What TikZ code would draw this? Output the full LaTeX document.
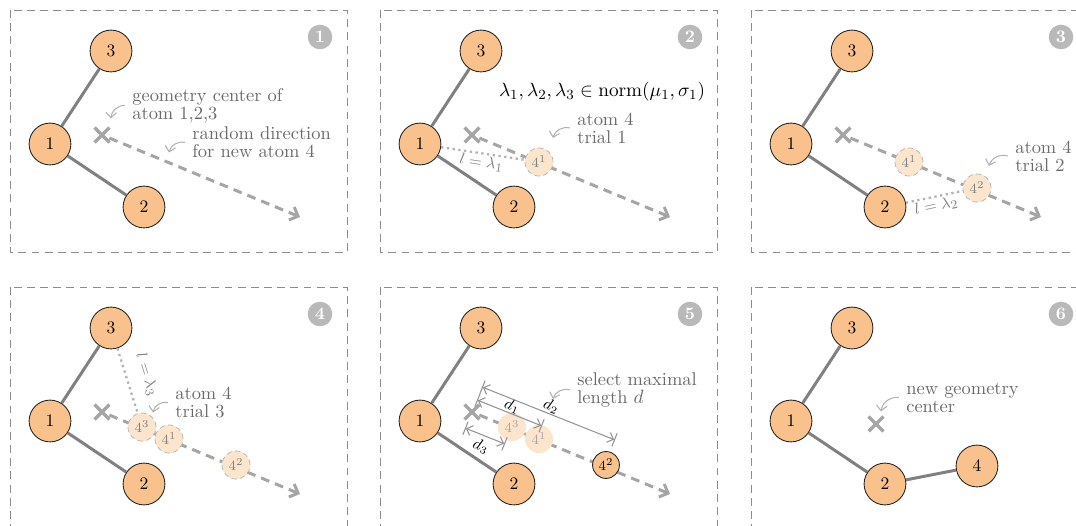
\documentclass[tikz,border=0pt]{standalone}
\usepackage{xcolor}
\usepackage{tikz}
\usepackage{amsmath}
\usetikzlibrary{positioning,shapes.misc,arrows.meta,calc}

\definecolor{atomorange}{RGB}{249,194,140}
\definecolor{trialfill}{RGB}{252,229,205}
\definecolor{bondgray}{RGB}{128,128,128}
\definecolor{dirgray}{RGB}{165,165,165}
\definecolor{notegray}{RGB}{105,105,105}

\begin{document}
\begin{tikzpicture}[x=0.02cm, y=-0.02cm,
    panel/.style={draw=gray!90, line width=0.5pt, dash pattern=on 4.5pt off 3pt},
    stepnum/.style={circle, fill=gray!55, text=white, font=\bfseries, minimum size=14pt, inner sep=0pt},
    atom/.style={circle, draw=black!85, fill=atomorange, minimum size=23.8pt, inner sep=0pt, line width=0.5pt},
    trial/.style={circle, draw=gray!60, densely dashed, fill=trialfill, minimum size=16pt, inner sep=0pt, text=gray, font=\footnotesize},
    ghost/.style={circle, fill=trialfill, minimum size=16pt, inner sep=0pt, text=gray!70, font=\footnotesize},
    bond/.style={draw=bondgray, line width=1.7pt},
    centre/.style={cross out, draw=dirgray, line width=1.9pt, minimum size=6.5pt, inner sep=0pt},
    direction/.style={draw=dirgray, line width=1.7pt, dash pattern=on 5pt off 3.5pt, -{Straight Barb[length=4pt, width=8pt]}},
    trace/.style={draw=gray!60, line width=1.3pt, dotted},
    lab/.style={text=gray, font=\fontsize{9.5}{11}\selectfont, inner sep=1pt},
    note/.style={anchor=west, align=left, text=notegray, inner sep=0pt, font=\fontsize{10.5}{10.3}\selectfont},
    pointer/.style={draw=gray!60, line width=0.6pt, -{Straight Barb[length=3pt, width=6pt]}},
    dim/.style={draw=gray!85, line width=0.6pt, {Bar[width=8pt] Straight Barb[length=3pt, width=6pt]}-{Straight Barb[length=3pt, width=6pt] Bar[width=8pt]}}]
\useasboundingbox (0,0) rectangle (1076,526);
\clip (0,0) rectangle (1076,526);

\foreach \p/\ox/\oy/\cx/\cy in {1/10/10/92/125, 2/380/10/92/125, 3/751/10/92/125,
                                4/10/287/92/125, 5/380/287/92/125, 6/751/287/125/137} {
  \begin{scope}[shift={(\ox,\oy)}]
    \draw[panel] (0,0) rectangle (337,242);
    \node[stepnum] (s-\p) at (310,27) {\p};
    \node[atom] (a1-\p) at (40,134) {1};
    \node[atom] (a2-\p) at (134,197) {2};
    \node[atom] (a3-\p) at (101,41) {3};
    \draw[bond] (a1-\p) -- (a2-\p);
    \draw[bond] (a1-\p) -- (a3-\p);
    \node[centre] (c-\p) at (\cx,\cy) {};
    \ifnum\p<6
      \coordinate (e-\p) at (290,207);
      \draw[direction] (c-\p) -- (e-\p);
    \fi
  \end{scope}
}

\begin{scope}[shift={(10,10)}]
  \node[note] (n-1) at (122,95.5) {geometry center of\\atom 1,2,3};
  \draw[pointer] ([xshift=-4pt]n-1.west) to[bend right=45] ++(-14,13);
  \node[note] (m-1) at (182,132.5) {random direction\\for new atom 4};
  \draw[pointer] ([xshift=-4pt]m-1.west) to[bend right=45] ++(-16,10);
\end{scope}

\begin{scope}[shift={(380,10)}]
  \node[font=\fontsize{11}{13}\selectfont] (law) at (222,82) {$\lambda_1, \lambda_2, \lambda_3 \in \mathrm{norm}(\mu_1, \sigma_1)$};
  \node[trial] (t1-2) at (159,152) {$4^1$};
  \draw[trace] (a1-2) -- node[lab, below, sloped] {$l=\lambda_1$} (t1-2);
  \node[note] (n-2) at (197,118) {atom 4\\trial 1};
  \draw[pointer] ([xshift=-4pt]n-2.west) to[bend right=45] ++(-17,10);
\end{scope}

\begin{scope}[shift={(751,10)}]
  \node[trial] (t1-3) at (158,152) {$4^1$};
  \node[trial] (t2-3) at (226,178) {$4^2$};
  \draw[trace] (a2-3) -- node[lab, below, sloped] {$l=\lambda_2$} (t2-3);
  \node[note] (n-3) at (264,146) {atom 4\\trial 2};
  \draw[pointer] ([xshift=-4pt]n-3.west) to[bend right=45] ++(-19,10);
\end{scope}

\begin{scope}[shift={(10,287)}]
  \node[trial] (t3-4) at (132,140) {$4^3$};
  \node[trial] (t1-4) at (159,152) {$4^1$};
  \node[trial] (t2-4) at (226,178) {$4^2$};
  \draw[trace] (a3-4) -- node[lab, above=6pt, sloped] {$l=\lambda_3$} (t3-4);
  \node[note] (n-4) at (165,115.5) {atom 4\\trial 3};
  \draw[pointer] ([xshift=-4pt]n-4.west) to[bend right=45] ++(-15,10);
\end{scope}

\begin{scope}[shift={(380,287)}]
  \node[ghost] (t3-5) at (132,140) {$4^3$};
  \node[ghost] (t1-5) at (159,152) {$4^1$};
  \node[atom, minimum size=15.3pt, font=\footnotesize] (t2-5) at (226,178) {$4^2$};
  \coordinate (d1a) at (97,113);
  \coordinate (d1b) at (162,139);
  \coordinate (d2a) at (102,100);
  \coordinate (d2b) at (235,153);
  \coordinate (d3a) at (85,141);
  \coordinate (d3b) at (125,157);
  \draw[dim] (d1a) -- node[sloped, above=-3pt, font=\small] {$d_1$} (d1b);
  \draw[dim] (d2a) -- node[sloped, above=-3pt, font=\small] {$d_2$} (d2b);
  \draw[dim] (d3a) -- node[sloped, below=-1pt, font=\small] {$d_3$} (d3b);
  \node[note] (n-5) at (197,103) {select maximal\\length $d$};
  \draw[pointer] ([xshift=-4pt]n-5.west) to[bend right=45] ++(-17,9);
\end{scope}

\begin{scope}[shift={(751,287)}]
  \node[atom] (a4-6) at (226,179) {4};
  \draw[bond] (a2-6) -- (a4-6);
  \node[note] (n-6) at (155,110.5) {new geometry\\center};
  \draw[pointer] ([xshift=-4pt]n-6.west) to[bend right=45] ++(-18,14);
\end{scope}
\end{tikzpicture}
\end{document}
